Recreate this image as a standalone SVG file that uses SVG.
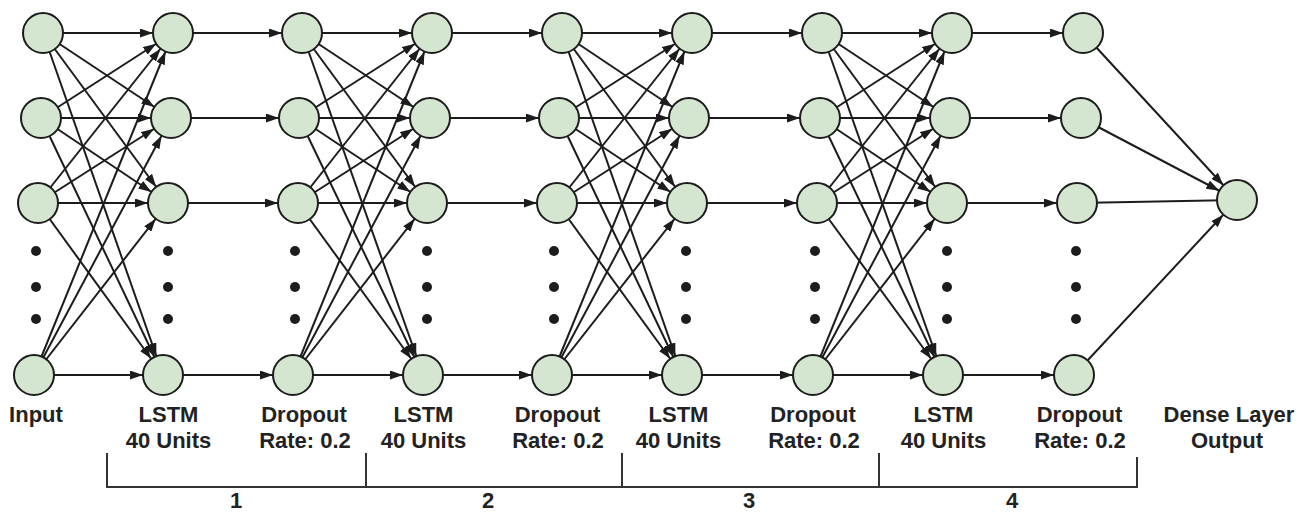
<svg xmlns="http://www.w3.org/2000/svg" width="1299" height="513" viewBox="0 0 1299 513">
<style>
.e{stroke:#1c1c1c;stroke-width:2;fill:none}
.a{marker-end:url(#ah)}
.n{fill:#d4e5d0;stroke:#1c1c1c;stroke-width:2}
.d{fill:#1c1c1c}
.t{font-family:"Liberation Sans",Arial,sans-serif;font-weight:bold;font-size:22px;fill:#222;text-anchor:middle}
.b{stroke:#333;stroke-width:2;fill:none}
</style>
<defs>
<marker id="ah" markerUnits="userSpaceOnUse" viewBox="0 0 34 9" markerWidth="34" markerHeight="9" refX="33" refY="4.5" orient="auto"><path d="M0,0 L13,4.5 L0,9 z" fill="#1c1c1c"/></marker>
</defs>
<rect width="1299" height="513" fill="#fff"/>
<g id="connectors">
<!-- Input -> LSTM1 -->
<line class="e a" x1="43" y1="33" x2="173" y2="33"/>
<line class="e a" x1="43" y1="33" x2="171" y2="118"/>
<line class="e a" x1="43" y1="33" x2="168" y2="203"/>
<line class="e a" x1="43" y1="33" x2="163" y2="375"/>
<line class="e a" x1="41" y1="118" x2="173" y2="33"/>
<line class="e a" x1="41" y1="118" x2="171" y2="118"/>
<line class="e a" x1="41" y1="118" x2="168" y2="203"/>
<line class="e a" x1="41" y1="118" x2="163" y2="375"/>
<line class="e a" x1="38" y1="203" x2="173" y2="33"/>
<line class="e a" x1="38" y1="203" x2="171" y2="118"/>
<line class="e a" x1="38" y1="203" x2="168" y2="203"/>
<line class="e a" x1="38" y1="203" x2="163" y2="375"/>
<line class="e a" x1="34" y1="375" x2="173" y2="33"/>
<line class="e a" x1="34" y1="375" x2="171" y2="118"/>
<line class="e a" x1="34" y1="375" x2="168" y2="203"/>
<line class="e a" x1="34" y1="375" x2="163" y2="375"/>
<!-- LSTM1 -> Dropout1 -->
<line class="e a" x1="173" y1="33" x2="302" y2="33"/>
<line class="e a" x1="171" y1="118" x2="299" y2="118"/>
<line class="e a" x1="168" y1="203" x2="298" y2="203"/>
<line class="e a" x1="163" y1="375" x2="293" y2="375"/>
<!-- Dropout1 -> LSTM2 -->
<line class="e a" x1="302" y1="33" x2="432" y2="33"/>
<line class="e a" x1="302" y1="33" x2="430" y2="118"/>
<line class="e a" x1="302" y1="33" x2="427" y2="203"/>
<line class="e a" x1="302" y1="33" x2="423" y2="375"/>
<line class="e a" x1="299" y1="118" x2="432" y2="33"/>
<line class="e a" x1="299" y1="118" x2="430" y2="118"/>
<line class="e a" x1="299" y1="118" x2="427" y2="203"/>
<line class="e a" x1="299" y1="118" x2="423" y2="375"/>
<line class="e a" x1="298" y1="203" x2="432" y2="33"/>
<line class="e a" x1="298" y1="203" x2="430" y2="118"/>
<line class="e a" x1="298" y1="203" x2="427" y2="203"/>
<line class="e a" x1="298" y1="203" x2="423" y2="375"/>
<line class="e a" x1="293" y1="375" x2="432" y2="33"/>
<line class="e a" x1="293" y1="375" x2="430" y2="118"/>
<line class="e a" x1="293" y1="375" x2="427" y2="203"/>
<line class="e a" x1="293" y1="375" x2="423" y2="375"/>
<!-- LSTM2 -> Dropout2 -->
<line class="e a" x1="432" y1="33" x2="562" y2="33"/>
<line class="e a" x1="430" y1="118" x2="559" y2="118"/>
<line class="e a" x1="427" y1="203" x2="557" y2="203"/>
<line class="e a" x1="423" y1="375" x2="552" y2="375"/>
<!-- Dropout2 -> LSTM3 -->
<line class="e a" x1="562" y1="33" x2="692" y2="33"/>
<line class="e a" x1="562" y1="33" x2="689" y2="118"/>
<line class="e a" x1="562" y1="33" x2="687" y2="203"/>
<line class="e a" x1="562" y1="33" x2="682" y2="375"/>
<line class="e a" x1="559" y1="118" x2="692" y2="33"/>
<line class="e a" x1="559" y1="118" x2="689" y2="118"/>
<line class="e a" x1="559" y1="118" x2="687" y2="203"/>
<line class="e a" x1="559" y1="118" x2="682" y2="375"/>
<line class="e a" x1="557" y1="203" x2="692" y2="33"/>
<line class="e a" x1="557" y1="203" x2="689" y2="118"/>
<line class="e a" x1="557" y1="203" x2="687" y2="203"/>
<line class="e a" x1="557" y1="203" x2="682" y2="375"/>
<line class="e a" x1="552" y1="375" x2="692" y2="33"/>
<line class="e a" x1="552" y1="375" x2="689" y2="118"/>
<line class="e a" x1="552" y1="375" x2="687" y2="203"/>
<line class="e a" x1="552" y1="375" x2="682" y2="375"/>
<!-- LSTM3 -> Dropout3 -->
<line class="e a" x1="692" y1="33" x2="822" y2="33"/>
<line class="e a" x1="689" y1="118" x2="820" y2="118"/>
<line class="e a" x1="687" y1="203" x2="817" y2="203"/>
<line class="e a" x1="682" y1="375" x2="813" y2="375"/>
<!-- Dropout3 -> LSTM4 -->
<line class="e a" x1="822" y1="33" x2="952" y2="33"/>
<line class="e a" x1="822" y1="33" x2="950" y2="118"/>
<line class="e a" x1="822" y1="33" x2="947" y2="203"/>
<line class="e a" x1="822" y1="33" x2="943" y2="375"/>
<line class="e a" x1="820" y1="118" x2="952" y2="33"/>
<line class="e a" x1="820" y1="118" x2="950" y2="118"/>
<line class="e a" x1="820" y1="118" x2="947" y2="203"/>
<line class="e a" x1="820" y1="118" x2="943" y2="375"/>
<line class="e a" x1="817" y1="203" x2="952" y2="33"/>
<line class="e a" x1="817" y1="203" x2="950" y2="118"/>
<line class="e a" x1="817" y1="203" x2="947" y2="203"/>
<line class="e a" x1="817" y1="203" x2="943" y2="375"/>
<line class="e a" x1="813" y1="375" x2="952" y2="33"/>
<line class="e a" x1="813" y1="375" x2="950" y2="118"/>
<line class="e a" x1="813" y1="375" x2="947" y2="203"/>
<line class="e a" x1="813" y1="375" x2="943" y2="375"/>
<!-- LSTM4 -> Dropout4 -->
<line class="e a" x1="952" y1="33" x2="1083" y2="33"/>
<line class="e a" x1="950" y1="118" x2="1081" y2="118"/>
<line class="e a" x1="947" y1="203" x2="1077" y2="203"/>
<line class="e a" x1="943" y1="375" x2="1074" y2="375"/>
<!-- Dropout4 -> Output -->
<line class="e a" x1="1083" y1="33" x2="1237" y2="200"/>
<line class="e a" x1="1081" y1="118" x2="1237" y2="200"/>
<line class="e" x1="1077" y1="203" x2="1237" y2="200"/>
<line class="e a" x1="1074" y1="375" x2="1237" y2="200"/>
</g>
<g id="input">
<circle class="n" cx="43" cy="33" r="20"/><circle class="n" cx="41" cy="118" r="20"/><circle class="n" cx="38" cy="203" r="20"/><circle class="n" cx="34" cy="375" r="20"/>
<circle class="d" cx="36" cy="251" r="5"/><circle class="d" cx="36" cy="287" r="5"/><circle class="d" cx="36" cy="319" r="5"/>
<text class="t" x="36" y="422">Input</text>
</g>
<g id="lstm1">
<circle class="n" cx="173" cy="33" r="20"/><circle class="n" cx="171" cy="118" r="20"/><circle class="n" cx="168" cy="203" r="20"/><circle class="n" cx="163" cy="375" r="20"/>
<circle class="d" cx="168" cy="251" r="5"/><circle class="d" cx="168" cy="287" r="5"/><circle class="d" cx="168" cy="319" r="5"/>
<text class="t" x="168.5" y="422">LSTM</text><text class="t" x="168.5" y="448">40 Units</text>
</g>
<g id="dropout1">
<circle class="n" cx="302" cy="33" r="20"/><circle class="n" cx="299" cy="118" r="20"/><circle class="n" cx="298" cy="203" r="20"/><circle class="n" cx="293" cy="375" r="20"/>
<circle class="d" cx="295" cy="251" r="5"/><circle class="d" cx="295" cy="287" r="5"/><circle class="d" cx="295" cy="319" r="5"/>
<text class="t" x="304" y="422">Dropout</text><text class="t" x="305" y="448">Rate: 0.2</text>
</g>
<g id="lstm2">
<circle class="n" cx="432" cy="33" r="20"/><circle class="n" cx="430" cy="118" r="20"/><circle class="n" cx="427" cy="203" r="20"/><circle class="n" cx="423" cy="375" r="20"/>
<circle class="d" cx="427" cy="251" r="5"/><circle class="d" cx="427" cy="287" r="5"/><circle class="d" cx="427" cy="319" r="5"/>
<text class="t" x="423.5" y="422">LSTM</text><text class="t" x="423.5" y="448">40 Units</text>
</g>
<g id="dropout2">
<circle class="n" cx="562" cy="33" r="20"/><circle class="n" cx="559" cy="118" r="20"/><circle class="n" cx="557" cy="203" r="20"/><circle class="n" cx="552" cy="375" r="20"/>
<circle class="d" cx="554" cy="251" r="5"/><circle class="d" cx="554" cy="287" r="5"/><circle class="d" cx="554" cy="319" r="5"/>
<text class="t" x="557.5" y="422">Dropout</text><text class="t" x="558" y="448">Rate: 0.2</text>
</g>
<g id="lstm3">
<circle class="n" cx="692" cy="33" r="20"/><circle class="n" cx="689" cy="118" r="20"/><circle class="n" cx="687" cy="203" r="20"/><circle class="n" cx="682" cy="375" r="20"/>
<circle class="d" cx="686" cy="251" r="5"/><circle class="d" cx="686" cy="287" r="5"/><circle class="d" cx="686" cy="319" r="5"/>
<text class="t" x="678.5" y="422">LSTM</text><text class="t" x="678.5" y="448">40 Units</text>
</g>
<g id="dropout3">
<circle class="n" cx="822" cy="33" r="20"/><circle class="n" cx="820" cy="118" r="20"/><circle class="n" cx="817" cy="203" r="20"/><circle class="n" cx="813" cy="375" r="20"/>
<circle class="d" cx="815" cy="251" r="5"/><circle class="d" cx="815" cy="287" r="5"/><circle class="d" cx="815" cy="319" r="5"/>
<text class="t" x="813" y="422">Dropout</text><text class="t" x="814" y="448">Rate: 0.2</text>
</g>
<g id="lstm4">
<circle class="n" cx="952" cy="33" r="20"/><circle class="n" cx="950" cy="118" r="20"/><circle class="n" cx="947" cy="203" r="20"/><circle class="n" cx="943" cy="375" r="20"/>
<circle class="d" cx="947" cy="251" r="5"/><circle class="d" cx="947" cy="287" r="5"/><circle class="d" cx="947" cy="319" r="5"/>
<text class="t" x="943.5" y="422">LSTM</text><text class="t" x="943.5" y="448">40 Units</text>
</g>
<g id="dropout4">
<circle class="n" cx="1083" cy="33" r="20"/><circle class="n" cx="1081" cy="118" r="20"/><circle class="n" cx="1077" cy="203" r="20"/><circle class="n" cx="1074" cy="375" r="20"/>
<circle class="d" cx="1076" cy="251" r="5"/><circle class="d" cx="1076" cy="287" r="5"/><circle class="d" cx="1076" cy="319" r="5"/>
<text class="t" x="1079.5" y="422">Dropout</text><text class="t" x="1080" y="448">Rate: 0.2</text>
</g>
<g id="output">
<circle class="n" cx="1237" cy="200" r="20"/>
<text class="t" x="1229" y="422">Dense Layer</text><text class="t" x="1227" y="448">Output</text>
</g>
<g id="bracket">
<path class="b" d="M107,453 V487 H1137 V457 M366,453 V487 M622,453 V487 M879,453 V487"/>
<text class="t" x="236" y="508">1</text>
<text class="t" x="488" y="508">2</text>
<text class="t" x="749" y="508">3</text>
<text class="t" x="1012" y="508">4</text>
</g>
</svg>
